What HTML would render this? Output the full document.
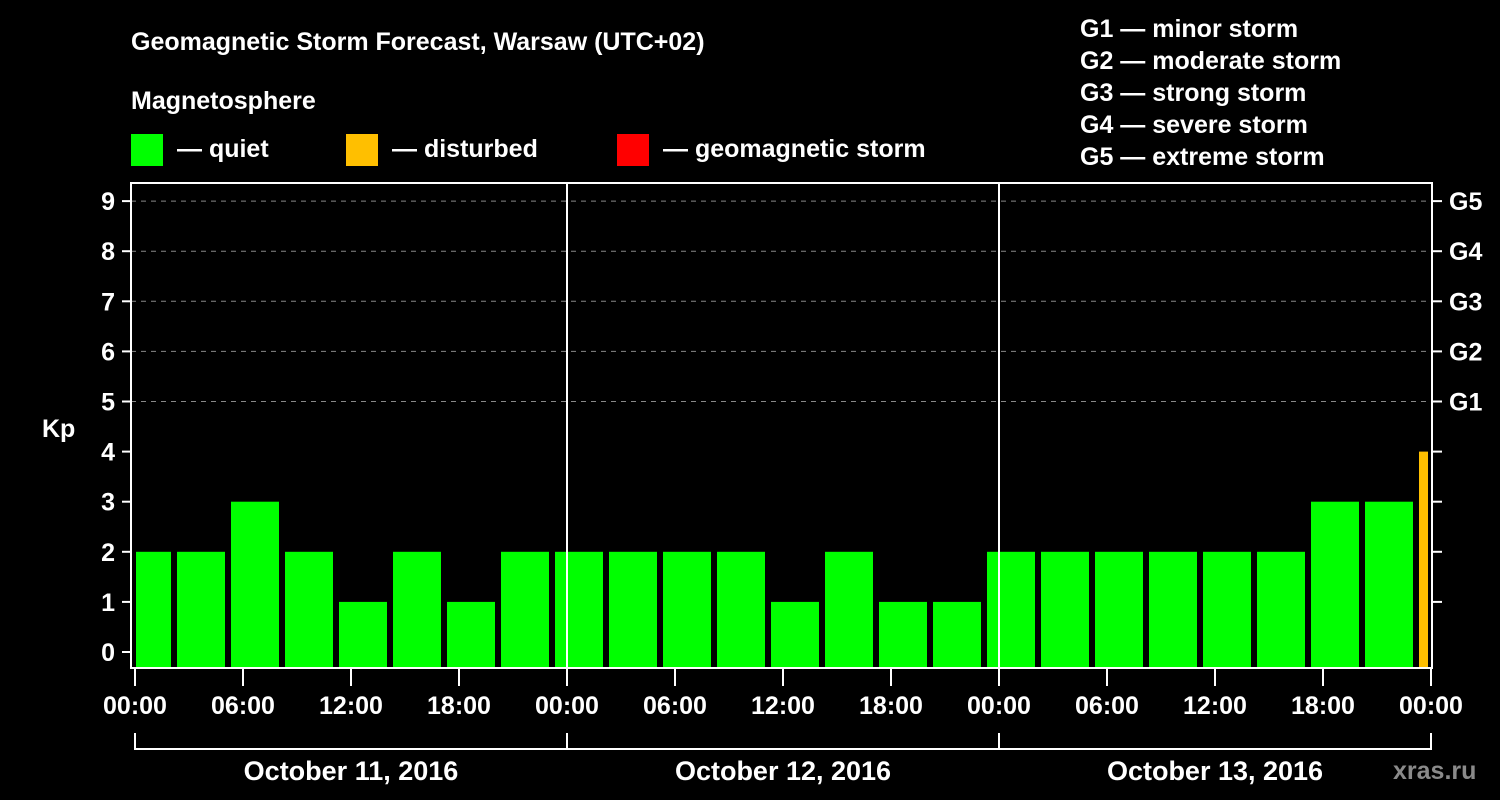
<!DOCTYPE html>
<html><head><meta charset="utf-8"><style>
html,body{margin:0;padding:0;background:#000;width:1500px;height:800px;overflow:hidden}
svg text{font-family:"Liberation Sans",sans-serif;font-weight:bold;fill:#fff}
</style></head><body>
<svg id="chart" width="1500" height="800" xmlns="http://www.w3.org/2000/svg">
<text x="131" y="50" font-size="25">Geomagnetic Storm Forecast, Warsaw (UTC+02)</text>
<text x="131" y="109" font-size="25">Magnetosphere</text>
<g><rect x="131" y="134" width="32" height="32" fill="#00ff00"/><text x="177" y="157" font-size="25">— quiet</text></g>
<g><rect x="346" y="134" width="32" height="32" fill="#ffbf00"/><text x="392" y="157" font-size="25">— disturbed</text></g>
<g><rect x="617" y="134" width="32" height="32" fill="#ff0000"/><text x="663" y="157" font-size="25">— geomagnetic storm</text></g>
<g font-size="25">
<text x="1080" y="37">G1 — minor storm</text>
<text x="1080" y="69">G2 — moderate storm</text>
<text x="1080" y="101">G3 — strong storm</text>
<text x="1080" y="133">G4 — severe storm</text>
<text x="1080" y="165">G5 — extreme storm</text>
</g>
<text x="42" y="437" font-size="25">Kp</text>
<text x="1393" y="779" font-size="25" fill="#888" style="fill:#8a8a8a">xras.ru</text>
<g id="g"></g>
</svg>
<script>
const kp=[2,2,3,2,1,2,1,2, 2,2,2,2,1,2,1,1, 2,2,2,2,2,2,3,3, 4];
const yTicks=[0,1,2,3,4,5,6,7,8,9];
const gLabels=["G1","G2","G3","G4","G5"];
const xLabels=["00:00","06:00","12:00","18:00","00:00","06:00","12:00","18:00","00:00","06:00","12:00","18:00","00:00"];
const dates=["October 11, 2016","October 12, 2016","October 13, 2016"];
const L=131,R=1432,T=183,B=668,X0=135,DAY=432;
const y=v=>652-v*50.1;
const xh=h=>X0+h*DAY/24;
const NS="http://www.w3.org/2000/svg",g=document.getElementById('g');
function mk(t,a,txt){const e=document.createElementNS(NS,t);for(const k in a)e.setAttribute(k,a[k]);if(txt!==undefined)e.textContent=txt;g.appendChild(e);return e;}
// grid
for(const v of yTicks){if(v>=5){const e=mk('line',{x1:L,x2:R,y1:y(v),y2:y(v),stroke:'#888','stroke-dasharray':'5,5','stroke-width':1});

}}
// bars
kp.forEach((v,i)=>{let x1=xh(i*3)-15+3,x2=x1+48;x1=Math.max(x1,136);x2=Math.min(x2,1428);
const c=v>=5?'#ff0000':v>=4?'#ffbf00':'#00ff00';
const e=mk('rect',{x:x1,y:y(v),width:x2-x1,height:B-y(v),fill:c});

});
// frame and day separators
const f=mk('rect',{x:L,y:T,width:R-L,height:B-T,fill:'none',stroke:'#fff','stroke-width':2});


for(let d=1;d<3;d++){const e=mk('line',{x1:xh(d*24),x2:xh(d*24),y1:T,y2:B,stroke:'#fff','stroke-width':2});

}
// y ticks
for(const v of yTicks){mk('line',{x1:122,x2:L,y1:y(v),y2:y(v),stroke:'#fff','stroke-width':2});
const t=mk('text',{x:115,y:y(v)+9,'font-size':25,'text-anchor':'end'},String(v));


if(v>=1)mk('line',{x1:R,x2:1442,y1:y(v),y2:y(v),stroke:'#fff','stroke-width':2});}
gLabels.forEach((s,i)=>{const t=mk('text',{x:1449,y:y(5+i)+9,'font-size':25},s);

});
// x ticks
xLabels.forEach((s,i)=>{const x=xh(i*6);mk('line',{x1:x,x2:x,y1:B,y2:686,stroke:'#fff','stroke-width':2});
const t=mk('text',{x:x,y:714,'font-size':25,'text-anchor':'middle'},s);

});
// date bracket
mk('line',{x1:xh(0),x2:xh(72),y1:749,y2:749,stroke:'#fff','stroke-width':2});
for(let d=0;d<=3;d++)mk('line',{x1:xh(d*24),x2:xh(d*24),y1:733,y2:750,stroke:'#fff','stroke-width':2});
dates.forEach((s,i)=>{const t=mk('text',{x:xh(i*24+12),y:780,'font-size':27,'text-anchor':'middle'},s);

});
</script>
</body></html>
